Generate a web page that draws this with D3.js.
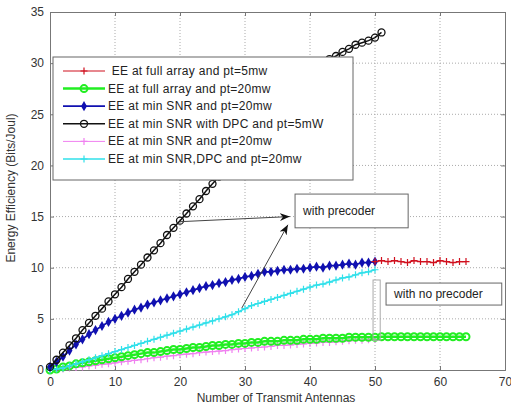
<!DOCTYPE html>
<html>
<head>
<meta charset="utf-8">
<script src="https://cdn.jsdelivr.net/npm/d3@7"></script>
<style>
body { margin: 0; background: #fff; }
text { font-family: "Liberation Sans", Arial, sans-serif; }
</style>
</head>
<body>
<svg id="chart"></svg>
<script>
const width = 511;
const height = 410;
const margin = {top: 12, right: 6, bottom: 40, left: 50};

// x values (number of transmit antennas)
const nFull = d3.range(0, 65);
const nMin = d3.range(0, 51);
const nDpc = d3.range(0, 52);
const nRed = d3.range(50, 65);

// series values
const eeFull5 = [10.6, 10.7, 10.6, 10.7, 10.6, 10.5, 10.7, 10.6, 10.6, 10.5, 10.7, 10.6, 10.5, 10.6, 10.6];
const eeFull20 = [0, 0.1, 0.3, 0.4, 0.6, 0.7, 0.8, 0.9, 1.0, 1.1, 1.2, 1.3, 1.4, 1.5, 1.6, 1.7, 1.7, 1.8, 1.9, 2.0,
    2.0, 2.1, 2.2, 2.2, 2.3, 2.4, 2.4, 2.5, 2.5, 2.6, 2.6, 2.7, 2.7, 2.8, 2.8, 2.8, 2.9, 2.9, 2.9, 3.0,
    3.0, 3.0, 3.1, 3.1, 3.1, 3.1, 3.2, 3.2, 3.2, 3.2, 3.2, 3.25, 3.25, 3.25, 3.25, 3.25, 3.25, 3.25, 3.25, 3.25,
    3.25, 3.25, 3.25, 3.25, 3.25];
const eeMin20 = [0.3, 0.8, 1.3, 1.9, 2.5, 3.0, 3.5, 3.9, 4.3, 4.7, 5.0, 5.3, 5.6, 5.9, 6.1, 6.4, 6.6, 6.8, 7.0, 7.2,
    7.4, 7.6, 7.8, 8.0, 8.2, 8.3, 8.5, 8.6, 8.8, 8.9, 9.1, 9.2, 9.4, 9.6, 9.6, 9.7, 9.8, 9.8, 9.9, 9.9,
    10.0, 10.1, 10.0, 10.2, 10.2, 10.3, 10.4, 10.3, 10.5, 10.5, 10.6];
const eeDpc5 = [0.3, 1.0, 1.7, 2.4, 3.1, 3.9, 4.6, 5.3, 6.0, 6.7, 7.4, 8.1, 8.9, 9.6, 10.3, 11.0, 11.7, 12.4, 13.2, 13.9,
    14.6, 15.3, 16.0, 16.7, 17.5, 18.2, 18.9, 19.6, 20.3, 21.0, 21.7, 22.5, 23.2, 23.9, 24.6, 25.3, 26.0, 26.7, 27.5, 28.1,
    28.8, 29.4, 29.9, 30.4, 30.7, 31.1, 31.4, 31.8, 32.0, 32.2, 32.5, 33.0];
const eeMinPink = [0, 0.05, 0.1, 0.2, 0.25, 0.3, 0.4, 0.45, 0.55, 0.6, 0.7, 0.8, 0.85, 0.95, 1.0, 1.1, 1.2, 1.25, 1.35, 1.4,
    1.5, 1.55, 1.6, 1.7, 1.75, 1.8, 1.85, 1.9, 2.0, 2.05, 2.1, 2.15, 2.2, 2.25, 2.3, 2.4, 2.4, 2.45, 2.5, 2.55,
    2.6, 2.65, 2.7, 2.7, 2.75, 2.8, 2.85, 2.9, 2.9, 2.95, 3.0];
const eeMinDpc20 = [0, 0.1, 0.2, 0.4, 0.6, 0.8, 1.0, 1.2, 1.4, 1.6, 1.8, 2.0, 2.2, 2.4, 2.6, 2.8, 3.0, 3.2, 3.4, 3.6,
    3.8, 4.0, 4.2, 4.4, 4.6, 4.8, 5.0, 5.2, 5.4, 5.7, 6.0, 6.3, 6.5, 6.7, 6.9, 7.1, 7.3, 7.5, 7.7, 7.9,
    8.1, 8.3, 8.4, 8.6, 8.8, 9.0, 9.1, 9.3, 9.5, 9.6, 9.8];

const labels = [' EE at full array and pt=5mw', 'EE at full array and pt=20mw', 'EE at min SNR and pt=20mw',
    'EE at min SNR with DPC and pt=5mW', 'EE at min SNR and pt=20mw', 'EE at min SNR,DPC and pt=20mw'];
const colors = ['#d0101e', '#22ee22', '#1010b0', '#111111', '#f080f0', '#30e0ea'];
const marks = ['plus', 'circleFill', 'diamond', 'circle', 'plus', 'plus'];
const widths = [1.2, 2.5, 1.8, 1.5, 1, 1.5];

const xTicks = d3.range(0, 71, 10);
const yTicks = d3.range(0, 36, 5);

// same order as labels
const series = [
    {xs: nRed, ys: eeFull5},
    {xs: nFull, ys: eeFull20},
    {xs: nMin, ys: eeMin20},
    {xs: nDpc, ys: eeDpc5},
    {xs: nMin, ys: eeMinPink},
    {xs: nMin, ys: eeMinDpc20}
];
const drawOrder = [4, 1, 5, 2, 0, 3];

const svg = d3.select('#chart').attr('width', width).attr('height', height);

const x = d3.scaleLinear().domain([0, 70]).range([margin.left, width - margin.right]);
const y = d3.scaleLinear().domain([0, 35]).range([height - margin.bottom, margin.top]);

// grid
svg.append('g').selectAll('line').data(xTicks.slice(1, -1)).join('line')
    .attr('x1', d => x(d)).attr('x2', d => x(d))
    .attr('y1', y(0)).attr('y2', y(35))
    .attr('stroke', '#aaa').attr('stroke-dasharray', '1,2');
svg.append('g').selectAll('line').data(yTicks.slice(1, -1)).join('line')
    .attr('y1', d => y(d)).attr('y2', d => y(d))
    .attr('x1', x(0)).attr('x2', x(70))
    .attr('stroke', '#aaa').attr('stroke-dasharray', '1,2');

// axes
svg.append('g').attr('transform', `translate(0, ${y(0)})`)
    .call(d3.axisBottom(x).tickValues(xTicks).tickSize(-4).tickPadding(7));
svg.append('g').attr('transform', `translate(${x(0)}, 0)`)
    .call(d3.axisLeft(y).tickValues(yTicks).tickSize(-4).tickPadding(6));
svg.append('g').attr('transform', `translate(0, ${y(35)})`)
    .call(d3.axisTop(x).tickValues(xTicks).tickSize(-4).tickFormat(''));
svg.append('g').attr('transform', `translate(${x(70)}, 0)`)
    .call(d3.axisRight(y).tickValues(yTicks).tickSize(-4).tickFormat(''));
svg.selectAll('.domain').attr('stroke', '#777');
svg.selectAll('.tick line').attr('stroke', '#777');
svg.selectAll('.tick text').attr('font-size', 12).attr('fill', '#333')
    .attr('font-family', '"Liberation Sans", Arial, sans-serif');

function drawMark(g, kind, color) {
    if (kind === 'plus') {
        g.append('path').attr('d', 'M-3.5,0H3.5M0,-3.5V3.5').attr('stroke', color).attr('stroke-width', 1.2);
    } else if (kind === 'circle') {
        g.append('circle').attr('r', 3.5).attr('fill', 'none').attr('stroke', color).attr('stroke-width', 1.3);
    } else if (kind === 'circleFill') {
        g.append('circle').attr('r', 3.5).attr('fill', 'none').attr('stroke', color).attr('stroke-width', 2);
    } else if (kind === 'diamond') {
        g.append('path').attr('d', d3.symbol(d3.symbolDiamond, 30)()).attr('fill', color);
    }
}

const line = d3.line().x(d => x(d[0])).y(d => y(d[1]));

drawOrder.forEach(k => {
    const s = series[k];
    const pts = s.xs.map((n, j) => [n, s.ys[j]]);
    const g = svg.append('g');
    g.append('path').datum(pts).attr('d', line)
        .attr('fill', 'none').attr('stroke', colors[k]).attr('stroke-width', widths[k]);
    g.selectAll('g').data(pts).join('g')
        .attr('transform', d => `translate(${x(d[0])}, ${y(d[1])})`)
        .each(function () { drawMark(d3.select(this), marks[k], colors[k]); });
});

// legend
const legend = svg.append('g').attr('transform', 'translate(53, 57)');
legend.append('rect').attr('width', 300).attr('height', 123)
    .attr('fill', '#fff').attr('stroke', '#666');
labels.forEach((lab, i) => {
    const row = legend.append('g').attr('transform', `translate(0, ${14 + i * 17.6})`);
    row.append('line').attr('x1', 10).attr('x2', 52)
        .attr('stroke', colors[i]).attr('stroke-width', widths[i]);
    drawMark(row.append('g').attr('transform', 'translate(31, 0)'), marks[i], colors[i]);
    row.append('text').attr('x', 55).attr('y', 4).attr('font-size', 12).attr('fill', '#222')
        .attr('letter-spacing', 0.3)
        .attr('xml:space', 'preserve').text(lab);
});

// annotations
const notes = [
    {text: 'with precoder', x0: 37.7, x1: 55.1, y0: 17.2, y1: 13.9},
    {text: 'with no precoder', x0: 51.7, x1: 69.5, y0: 8.5, y1: 6.35}
];
notes.forEach(n => {
    svg.append('rect').attr('x', x(n.x0)).attr('y', y(n.y0))
        .attr('width', x(n.x1) - x(n.x0)).attr('height', y(n.y1) - y(n.y0))
        .attr('fill', '#fff').attr('stroke', '#666');
    svg.append('text').attr('x', x(n.x0) + 8).attr('y', (y(n.y0) + y(n.y1)) / 2 + 4)
        .attr('font-size', 12).attr('fill', '#222').text(n.text);
});
svg.append('rect').attr('x', x(49.7)).attr('y', y(8.8))
    .attr('width', x(50.8) - x(49.7)).attr('height', y(2.9) - y(8.8))
    .attr('fill', 'none').attr('stroke', '#aaa');

svg.append('defs').append('marker').attr('id', 'arrow')
    .attr('viewBox', '0 -4 10 8').attr('refX', 10).attr('refY', 0)
    .attr('markerWidth', 10).attr('markerHeight', 8).attr('markerUnits', 'userSpaceOnUse')
    .attr('orient', 'auto')
    .append('path').attr('d', 'M0,-4L10,0L0,4L3,0Z').attr('fill', '#111');

const arrows = [
    {from: [20, 14.5], to: [36.9, 15.0]},
    {from: [29.5, 6.05], to: [36.6, 14.2]}
];
arrows.forEach(a => {
    svg.append('line')
        .attr('x1', x(a.from[0])).attr('y1', y(a.from[1]))
        .attr('x2', x(a.to[0])).attr('y2', y(a.to[1]))
        .attr('stroke', '#444').attr('stroke-width', 1)
        .attr('marker-end', 'url(#arrow)');
});

// axis labels
svg.append('text').attr('x', 276).attr('y', 402).attr('text-anchor', 'middle')
    .attr('font-size', 12).attr('fill', '#333').text('Number of Transmit Antennas');
svg.append('text').attr('transform', 'translate(15, 188) rotate(-90)').attr('text-anchor', 'middle')
    .attr('font-size', 12).attr('fill', '#333').text('Energy Efficiency (Bits/Joul)');
</script>
</body>
</html>
